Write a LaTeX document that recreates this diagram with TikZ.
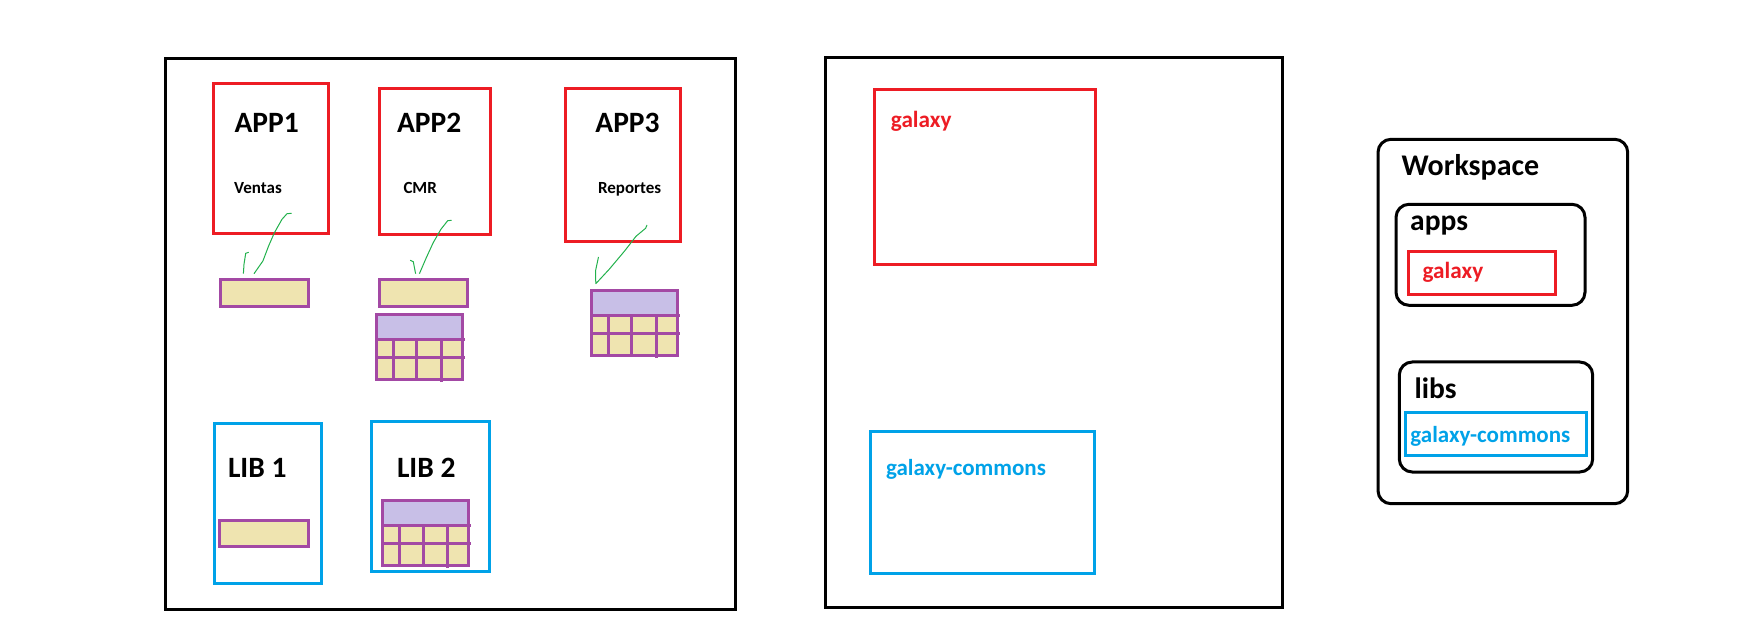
\documentclass[tikz,border=0pt]{standalone}
\usepackage{fontspec}
\setmainfont{Carlito}
\usetikzlibrary{positioning}
\definecolor{appred}{HTML}{ED1C24}
\definecolor{libblue}{HTML}{00A2E8}
\definecolor{slotpurple}{HTML}{A349A4}
\definecolor{slotfill}{HTML}{EFE4B0}
\definecolor{headfill}{HTML}{C8BFE7}
\definecolor{tickgreen}{HTML}{22B14C}
\tikzset{
    boxsize/.style 2 args={minimum width=#1pt, minimum height=#2pt},
    plainbox/.style={draw, line width=3pt, inner sep=0pt, outer sep=0pt, anchor=north west},
    frame/.style={plainbox, black},
    appbox/.style={plainbox, appred},
    libbox/.style={plainbox, libblue},
    roundbox/.style={plainbox, black, rounded corners=13pt},
    slotbox/.style={plainbox, slotpurple, fill=slotfill},
    tick/.style={tickgreen, line width=1pt, line join=round},
    label/.style={inner sep=0pt, anchor=base west, font=\bfseries\fontsize{#1}{#1}\selectfont},
    gridtable/.pic={
        \draw[slotpurple, line width=3pt, fill=slotfill] (0,0) rectangle (86.5,65);
        \draw[slotpurple, line width=3pt, fill=headfill] (0,0) rectangle (86.5,25);
        \draw[slotpurple, line width=3pt] (0,25) -- (89,25) (0,43) -- (89,43);
        \draw[slotpurple, line width=3pt] (17,25) -- (17,65) (40.7,25) -- (40.7,65) (65.6,25) -- (65.6,67.5);
    }
}
\begin{document}
\begin{tikzpicture}[x=1pt, y=-1pt]
    \useasboundingbox (0,-1) rectangle (1757,643);

    \node [frame, boxsize={570}{550}] (apps_frame) at (165.7,58) {};
    \node [frame, boxsize={457}{550}] (nx_frame) at (825.3,56.5) {};

    % Applications
    \node [appbox, boxsize={115}{150}] (app1) at (213,83) {};
    \node [appbox, boxsize={111}{146}] (app2) at (379.6,88) {};
    \node [appbox, boxsize={115}{153}] (app3) at (565,88) {};
    \node [label=29.5, text=black] (app1_name) at (234.3,131.7) {APP1};
    \node [label=29.5, text=black] (app2_name) at (396.8,131.7) {APP2};
    \node [label=29.5, text=black] (app3_name) at (595.2,131.7) {APP3};
    \node [label=17, text=black] (app1_text) at (234,192.7) {Ventas};
    \node [label=17, text=black] (app2_text) at (403.3,192.7) {CMR};
    \node [label=17, text=black] (app3_text) at (597.8,192.7) {Reportes};

    \node [slotbox, boxsize={88.5}{27}, below right=46pt and 7pt of app1.south west] (slot1) {};
    \node [slotbox, boxsize={87.6}{27}, below right=45pt and 0pt of app2.south west] (slot2) {};
    \pic at (376,314) {gridtable};
    \pic at (591,290) {gridtable};

    % Libraries
    \node [libbox, boxsize={107.5}{160.4}] (lib1) at (214.3,422.3) {};
    \node [libbox, boxsize={117.4}{150.4}] (lib2) at (371.6,420.3) {};
    \node [label=29.5, text=black] (lib1_name) at (227.8,476.7) {LIB 1};
    \node [label=29.5, text=black] (lib2_name) at (396.8,476.7) {LIB 2};
    \node [slotbox, boxsize={88.7}{26.7}, below right=96.7pt and 5pt of lib1.north west] (slot3) {};
    \pic at (382.3,499) {gridtable};

    % Ticks
    \draw[tick] (291.6,212.3) -- (287,212.7) -- (282,218.3) -- (274.4,231.7) -- (268.6,245) -- (262.9,260) -- (254,272.7);
    \draw[tick] (248.7,251.3) -- (245.7,252.3) -- (244,263.3) -- (243.4,272.7);
    \draw[tick] (451.6,219.3) -- (447.7,219.7) -- (440.9,228.3) -- (433.2,241.7) -- (426.3,256.7) -- (419.4,272.7);
    \draw[tick] (410.2,259.3) -- (413.3,260.7) -- (415.6,272.7);
    \draw[tick] (647,224) -- (645.6,227.3) -- (636,235.3) -- (624.6,250) -- (609.2,268.3) -- (595.8,282.7) -- (595.5,270) -- (598.5,256);

    % Nx layout
    \node [appbox, boxsize={221}{175}] (galaxy) at (874,88.6) {};
    \node [libbox, boxsize={224}{142}] (commons) at (870,430.7) {};
    \node [label=23.2, text=appred] (galaxy_name) at (890.7,127) {galaxy};
    \node [label=23, text=libblue] (commons_name) at (885.8,474.4) {galaxy-commons};

    % Workspace
    \node [roundbox, boxsize={249.7}{364.4}] (workspace) at (1378,138.3) {};
    \node [roundbox, boxsize={189}{101}] (apps) at (1396,203.3) {};
    \node [roundbox, boxsize={193.4}{110}] (libs) at (1399.3,361) {};
    \node [appbox, boxsize={146.7}{43.4}] (galaxy_small) at (1408.3,250.3) {};
    \node [libbox, boxsize={181}{43}] (commons_small) at (1405,411.3) {};
    \node [label=30, text=black] (workspace_name) at (1401.5,174.3) {Workspace};
    \node [label=29.5, text=black] (apps_name) at (1410,229.3) {apps};
    \node [label=29.5, text=black] (libs_name) at (1414.3,397.3) {libs};
    \node [label=23.2, text=appred] (galaxy_small_name) at (1422.4,277.3) {galaxy};
    \node [label=23, text=libblue] (commons_small_name) at (1410.2,441.7) {galaxy-commons};
\end{tikzpicture}
\end{document}
